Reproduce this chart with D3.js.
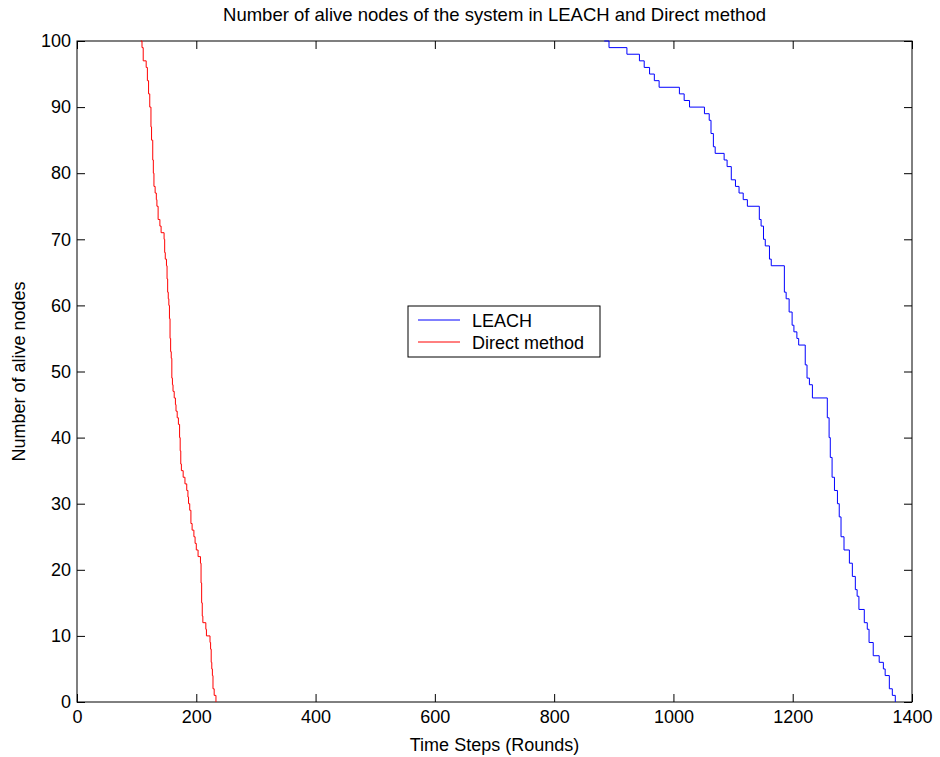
<!DOCTYPE html>
<html>
<head>
<meta charset="utf-8">
<script src="https://cdn.jsdelivr.net/npm/d3@7"></script>
<style>
  body { margin: 0; background: #fff; }
  text { font-family: "Liberation Sans", Arial, sans-serif; fill: #000; }
</style>
</head>
<body>
<div id="container"></div>
<script>
/* CONSTANTS AND GLOBALS */
const width = 940,
  height = 757,
  margin = { top: 41, bottom: 55, left: 77, right: 28 };

// round at which the count drops, and the count from then on
const leachRounds = [884, 892, 922, 943, 951, 960, 968, 976, 1010, 1018, 1027, 1052, 1060, 1063, 1067, 1070, 1085, 1090, 1097, 1104, 1110, 1117, 1124, 1144, 1147, 1151, 1154, 1161, 1164, 1186, 1189, 1194, 1199, 1202, 1207, 1210, 1221, 1224, 1228, 1233, 1258, 1261, 1263, 1266, 1270, 1275, 1278, 1281, 1286, 1295, 1300, 1305, 1308, 1311, 1320, 1325, 1328, 1335, 1345, 1352, 1355, 1362, 1367, 1372];
const leachAlive  = [100, 99, 98, 97, 96, 95, 94, 93, 92, 91, 90, 89, 88, 86, 84, 83, 82, 81, 79, 78, 77, 76, 75, 73, 72, 70, 69, 67, 66, 62, 61, 59, 57, 56, 55, 54, 51, 49, 48, 46, 43, 40, 37, 34, 32, 30, 28, 25, 23, 21, 19, 17, 16, 14, 12, 11, 9, 7, 6, 5, 4, 2, 1, 0];

const directRounds = [107, 109, 111, 116, 118, 120, 122, 124, 125, 127, 128, 129, 131, 133, 134, 136, 139, 141, 146, 147, 148, 150, 151, 152, 153, 154, 155, 156, 157, 158, 159, 160, 161, 163, 165, 166, 168, 170, 172, 173, 174, 175, 178, 181, 184, 186, 187, 189, 191, 193, 196, 198, 200, 203, 207, 208, 209, 210, 211, 216, 217, 223, 224, 225, 226, 227, 228, 230, 233];
const directAlive  = [100, 99, 97, 96, 94, 92, 90, 87, 85, 82, 80, 78, 77, 76, 75, 73, 72, 71, 70, 68, 67, 66, 64, 62, 61, 60, 58, 55, 53, 52, 49, 48, 47, 46, 45, 44, 43, 42, 40, 38, 36, 35, 34, 33, 32, 31, 30, 29, 27, 26, 25, 24, 23, 22, 21, 18, 15, 13, 12, 11, 10, 9, 8, 6, 5, 4, 2, 1, 0];

const xTicks = [0, 200, 400, 600, 800, 1000, 1200, 1400];
const yTicks = [0, 10, 20, 30, 40, 50, 60, 70, 80, 90, 100];

const seriesNames = ["LEACH", "Direct method"];
const seriesColors = ["#0000ff", "#ff0000"];

const leach = leachRounds.map((r, i) => ({ round: r, alive: leachAlive[i] }));
const direct = directRounds.map((r, i) => ({ round: r, alive: directAlive[i] }));

// SCALES
const xScale = d3.scaleLinear()
  .domain([0, 1400])
  .range([margin.left, width - margin.right]);

const yScale = d3.scaleLinear()
  .domain([0, 100])
  .range([height - margin.bottom, margin.top]);

// CREATE SVG ELEMENT
const svg = d3.select("#container")
  .append("svg")
  .attr("width", width)
  .attr("height", height);

const x0 = xScale.range()[0], x1 = xScale.range()[1];
const y0 = yScale.range()[0], y1 = yScale.range()[1];

// BUILD AXES (matlab style: ticks pointing inward on all sides)
const tickLen = 8;
const fmt = d3.format("d");
svg.append("g")
  .attr("transform", `translate(0,${y0})`)
  .call(d3.axisBottom(xScale).tickValues(xTicks).tickFormat(fmt).tickSize(-tickLen).tickPadding(8))
  .call(g => g.select(".domain").remove());

svg.append("g")
  .attr("transform", `translate(0,${y1})`)
  .call(d3.axisTop(xScale).tickValues(xTicks).tickSize(-tickLen).tickFormat(""))
  .call(g => g.select(".domain").remove());

svg.append("g")
  .attr("transform", `translate(${x0},0)`)
  .call(d3.axisLeft(yScale).tickValues(yTicks).tickFormat(fmt).tickSize(-tickLen).tickPadding(6))
  .call(g => g.select(".domain").remove());

svg.append("g")
  .attr("transform", `translate(${x1},0)`)
  .call(d3.axisRight(yScale).tickValues(yTicks).tickSize(-tickLen).tickFormat(""))
  .call(g => g.select(".domain").remove());

svg.selectAll(".tick line").attr("stroke", "#000");
svg.selectAll(".tick text")
  .style("font-family", '"Liberation Sans", Arial, sans-serif')
  .style("font-size", "18px");

svg.append("rect")
  .attr("x", x0).attr("y", y1)
  .attr("width", x1 - x0).attr("height", y0 - y1)
  .attr("fill", "none")
  .attr("stroke", "#000")
  .attr("stroke-width", 1);

// LINE GENERATOR
const line = d3.line()
  .x(d => xScale(d.round))
  .y(d => yScale(d.alive))
  .curve(d3.curveStepAfter);

svg.selectAll("path.series")
  .data([leach, direct])
  .join("path")
  .attr("class", "series")
  .attr("d", d => line(d))
  .attr("fill", "none")
  .attr("stroke", (d, i) => seriesColors[i])
  .attr("stroke-width", 1);

// TITLES
svg.append("text")
  .attr("x", (x0 + x1) / 2)
  .attr("y", 21)
  .style("text-anchor", "middle")
  .style("font-size", "18.5px")
  .text("Number of alive nodes of the system in LEACH and Direct method");

svg.append("text")
  .attr("x", (x0 + x1) / 2)
  .attr("y", 751)
  .style("text-anchor", "middle")
  .style("font-size", "18px")
  .text("Time Steps (Rounds)");

svg.append("text")
  .attr("transform", `translate(25,${(y0 + y1) / 2}) rotate(-90)`)
  .style("text-anchor", "middle")
  .style("font-size", "18px")
  .text("Number of alive nodes");

// LEGEND
const legend = svg.append("g").attr("transform", "translate(408,306)");
legend.append("rect")
  .attr("width", 192).attr("height", 51)
  .attr("fill", "#fff").attr("stroke", "#000");
seriesNames.forEach((name, i) => {
  const ly = 14 + i * 22;
  legend.append("line")
    .attr("x1", 10).attr("x2", 52)
    .attr("y1", ly).attr("y2", ly)
    .attr("stroke", seriesColors[i]);
  legend.append("text")
    .attr("x", 64).attr("y", ly + 7)
    .style("font-size", "18px")
    .text(name);
});
</script>
</body>
</html>
